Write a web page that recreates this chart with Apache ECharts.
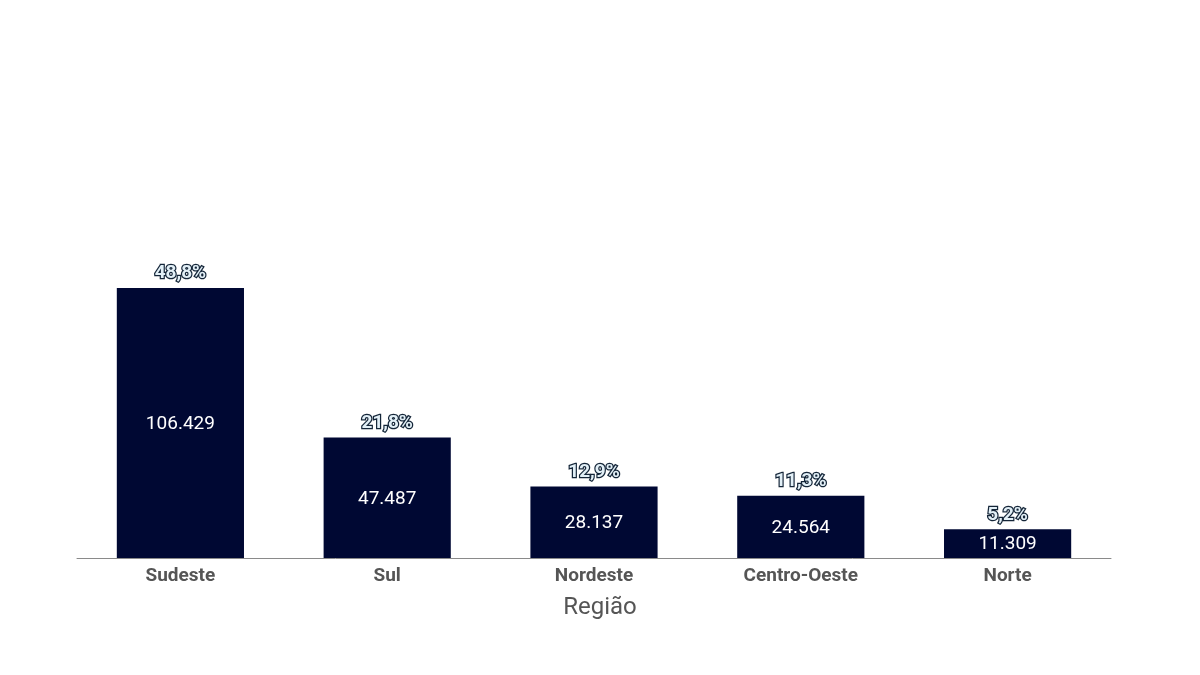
<!DOCTYPE html>
<html>
<head>
<meta charset="utf-8">
<script src="https://cdn.jsdelivr.net/npm/echarts@6/dist/echarts.min.js"></script>
<style>html,body{margin:0;padding:0;background:#fff;}#c{width:1200px;height:675px;}</style>
</head>
<body>
<div id="c"></div>
<script>
const categories = ['Sudeste', 'Sul', 'Nordeste', 'Centro-Oeste', 'Norte'];
const values = [106429, 47487, 28137, 24564, 11309];
const percentLabels = ['48,8%', '21,8%', '12,9%', '11,3%', '5,2%'];

function fmt(v) {
  return String(v).replace(/\B(?=(\d{3})+(?!\d))/g, '.');
}

const chart = echarts.init(document.getElementById('c'));
chart.setOption({
  animation: false,
  backgroundColor: '#ffffff',
  grid: { left: 77, right: 89, top: 152, bottom: 117 },
  xAxis: {
    type: 'category',
    data: categories,
    name: 'Região',
    nameLocation: 'middle',
    nameGap: 38,
    nameTextStyle: { fontFamily: 'Roboto', fontSize: 24, color: '#555555', padding: [0, 0, 0, 12] },
    axisLine: { lineStyle: { color: '#8a8a8a', width: 1 } },
    axisTick: { show: false },
    axisLabel: { fontFamily: 'Roboto', fontSize: 19, fontWeight: 'bold', color: '#555555', margin: 9 }
  },
  yAxis: {
    type: 'value',
    min: 0,
    max: 160000,
    show: false,
    splitLine: { show: false }
  },
  series: [
    {
      type: 'bar',
      data: values,
      barWidth: '61.5%',
      itemStyle: { color: '#000833' },
      label: {
        show: true,
        position: 'inside',
        offset: [0, 1],
        formatter: p => fmt(p.value),
        fontFamily: 'Roboto',
        fontSize: 19,
        color: '#ffffff'
      }
    },
    {
      type: 'bar',
      data: values,
      barWidth: '61.5%',
      barGap: '-100%',
      itemStyle: { color: 'rgba(0,0,0,0)' },
      silent: true,
      label: {
        show: true,
        position: 'top',
        distance: 5,
        formatter: p => percentLabels[p.dataIndex],
        fontFamily: 'Roboto',
        fontSize: 19,
        fontWeight: 'bold',
        color: '#e3f0f7',
        textBorderColor: '#142538',
        textBorderWidth: 2.5
      }
    }
  ]
});
</script>
</body>
</html>
